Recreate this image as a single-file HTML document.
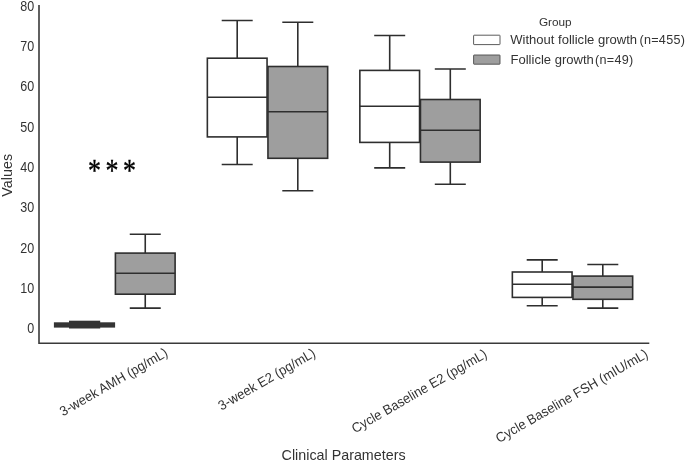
<!DOCTYPE html>
<html><head><meta charset="utf-8"><title>Box plot</title>
<style>
html,body{margin:0;padding:0;background:#fff;}
body{width:685px;height:462px;overflow:hidden;font-family:"Liberation Sans",sans-serif;}
svg{display:block;will-change:transform;transform:translateZ(0);}
svg text{font-family:"Liberation Sans",sans-serif;}
svg .ser text{font-family:"Liberation Serif",serif;}
</style></head>
<body>
<svg width="685" height="462" viewBox="0 0 685 462">
<rect width="685" height="462" fill="#ffffff"/>
<!-- axes -->
<path d="M39 5V343.2H649.3" fill="none" stroke="#3a3a3a" stroke-width="1.6"/>
<!-- boxes -->
<rect x="53.9" y="322.3" width="61.2" height="5.3" fill="#343434"/>
<rect x="69" y="320.7" width="31.2" height="7.8" fill="#343434"/>
<rect x="115.4" y="253.1" width="59.7" height="41.099999999999994" fill="#9e9e9e" stroke="#2e2e2e" stroke-width="1.6"/>
<path d="M145.25 234.3V253.1M145.25 294.2V308.1M129.75 234.3H160.75M129.75 308.1H160.75M115.4 273.2H175.1" stroke="#2e2e2e" stroke-width="1.6" fill="none"/>
<rect x="207.35" y="58.2" width="59.7" height="78.7" fill="#ffffff" stroke="#2e2e2e" stroke-width="1.6"/>
<path d="M237.2 20.5V58.2M237.2 136.9V164.5M221.7 20.5H252.7M221.7 164.5H252.7M207.35 97.2H267.05" stroke="#2e2e2e" stroke-width="1.6" fill="none"/>
<rect x="267.95" y="66.5" width="59.7" height="91.80000000000001" fill="#9e9e9e" stroke="#2e2e2e" stroke-width="1.6"/>
<path d="M297.8 22.3V66.5M297.8 158.3V190.7M282.3 22.3H313.3M282.3 190.7H313.3M267.95 111.7H327.65000000000003" stroke="#2e2e2e" stroke-width="1.6" fill="none"/>
<rect x="359.84999999999997" y="70.4" width="59.7" height="72.0" fill="#ffffff" stroke="#2e2e2e" stroke-width="1.6"/>
<path d="M389.7 35.5V70.4M389.7 142.4V167.9M374.2 35.5H405.2M374.2 167.9H405.2M359.84999999999997 106.3H419.55" stroke="#2e2e2e" stroke-width="1.6" fill="none"/>
<rect x="420.45" y="99.5" width="59.7" height="62.599999999999994" fill="#9e9e9e" stroke="#2e2e2e" stroke-width="1.6"/>
<path d="M450.3 69V99.5M450.3 162.1V184.3M434.8 69H465.8M434.8 184.3H465.8M420.45 130.2H480.15000000000003" stroke="#2e2e2e" stroke-width="1.6" fill="none"/>
<rect x="512.35" y="272" width="59.7" height="25.399999999999977" fill="#ffffff" stroke="#2e2e2e" stroke-width="1.6"/>
<path d="M542.2 259.9V272M542.2 297.4V305.7M526.7 259.9H557.7M526.7 305.7H557.7M512.35 284.2H572.0500000000001" stroke="#2e2e2e" stroke-width="1.6" fill="none"/>
<rect x="572.9499999999999" y="276.1" width="59.7" height="23.19999999999999" fill="#9e9e9e" stroke="#2e2e2e" stroke-width="1.6"/>
<path d="M602.8 264.5V276.1M602.8 299.3V308.1M587.3 264.5H618.3M587.3 308.1H618.3M572.9499999999999 287.1H632.65" stroke="#2e2e2e" stroke-width="1.6" fill="none"/>
<!-- y tick labels -->
<text transform="translate(34.2 333.45) scale(0.965 1.08)" text-anchor="end" font-size="13" fill="#333333">0</text>
<text transform="translate(34.2 293.09) scale(0.965 1.08)" text-anchor="end" font-size="13" fill="#333333">10</text>
<text transform="translate(34.2 252.73) scale(0.965 1.08)" text-anchor="end" font-size="13" fill="#333333">20</text>
<text transform="translate(34.2 212.37) scale(0.965 1.08)" text-anchor="end" font-size="13" fill="#333333">30</text>
<text transform="translate(34.2 172.01) scale(0.965 1.08)" text-anchor="end" font-size="13" fill="#333333">40</text>
<text transform="translate(34.2 131.65) scale(0.965 1.08)" text-anchor="end" font-size="13" fill="#333333">50</text>
<text transform="translate(34.2 91.29) scale(0.965 1.08)" text-anchor="end" font-size="13" fill="#333333">60</text>
<text transform="translate(34.2 50.93) scale(0.965 1.08)" text-anchor="end" font-size="13" fill="#333333">70</text>
<text transform="translate(34.2 10.57) scale(0.965 1.08)" text-anchor="end" font-size="13" fill="#333333">80</text>
<!-- x tick labels -->
<text transform="translate(113.6 382) rotate(-30) scale(1 1.05)" x="0" y="4.3" text-anchor="middle" font-size="13" fill="#333333">3-week AMH (pg/mL)</text>
<text transform="translate(266.8 379.3) rotate(-30) scale(1 1.05)" x="0" y="4.3" text-anchor="middle" font-size="13" fill="#333333">3-week E2 (pg/mL)</text>
<text transform="translate(419.25 391.2) rotate(-30) scale(1 1.05)" x="0" y="4.3" text-anchor="middle" font-size="13" fill="#333333">Cycle Baseline E2 (pg/mL)</text>
<text transform="translate(571.75 396) rotate(-30) scale(1 1.05)" x="0" y="4.3" text-anchor="middle" font-size="13" fill="#333333">Cycle Baseline FSH (mIU/mL)</text>
<!-- axis labels -->
<text transform="translate(11.8 175.3) rotate(-90)" text-anchor="middle" font-size="14.3" fill="#333333">Values</text>
<text x="343.6" y="460.3" text-anchor="middle" font-size="14.3" fill="#333333">Clinical Parameters</text>
<!-- significance -->
<g class="ser" font-size="29.5" fill="#000" stroke="#000" stroke-width="0.35" text-anchor="middle">
<text transform="translate(94.6 181.2) scale(0.88 1.06)">*</text>
<text transform="translate(111.9 181.2) scale(0.88 1.06)">*</text>
<text transform="translate(129.4 181.2) scale(0.88 1.06)">*</text>
</g>
<!-- legend -->
<text x="555.3" y="25.9" text-anchor="middle" font-size="11.8" fill="#333333">Group</text>
<rect x="473.6" y="35.2" width="26.4" height="9.4" rx="0.5" fill="#ffffff" stroke="#4a4a4a" stroke-width="0.9"/>
<rect x="473.6" y="55" width="26.4" height="9.2" rx="0.5" fill="#9e9e9e" stroke="#4a4a4a" stroke-width="0.9"/>
<text transform="translate(510.2 44.2) scale(1.004 1.05)" font-size="13" fill="#333333">Without follicle growth</text>
<text transform="translate(639.4 44.3)" font-size="12.6" letter-spacing="0.3" fill="#333333">(n=455)</text>
<text transform="translate(510.5 64.2) scale(1.004 1.05)" font-size="13" fill="#333333">Follicle growth</text>
<text transform="translate(595 64.1)" font-size="12.6" letter-spacing="0.3" fill="#333333">(n=49)</text>
</svg>
</body></html>
